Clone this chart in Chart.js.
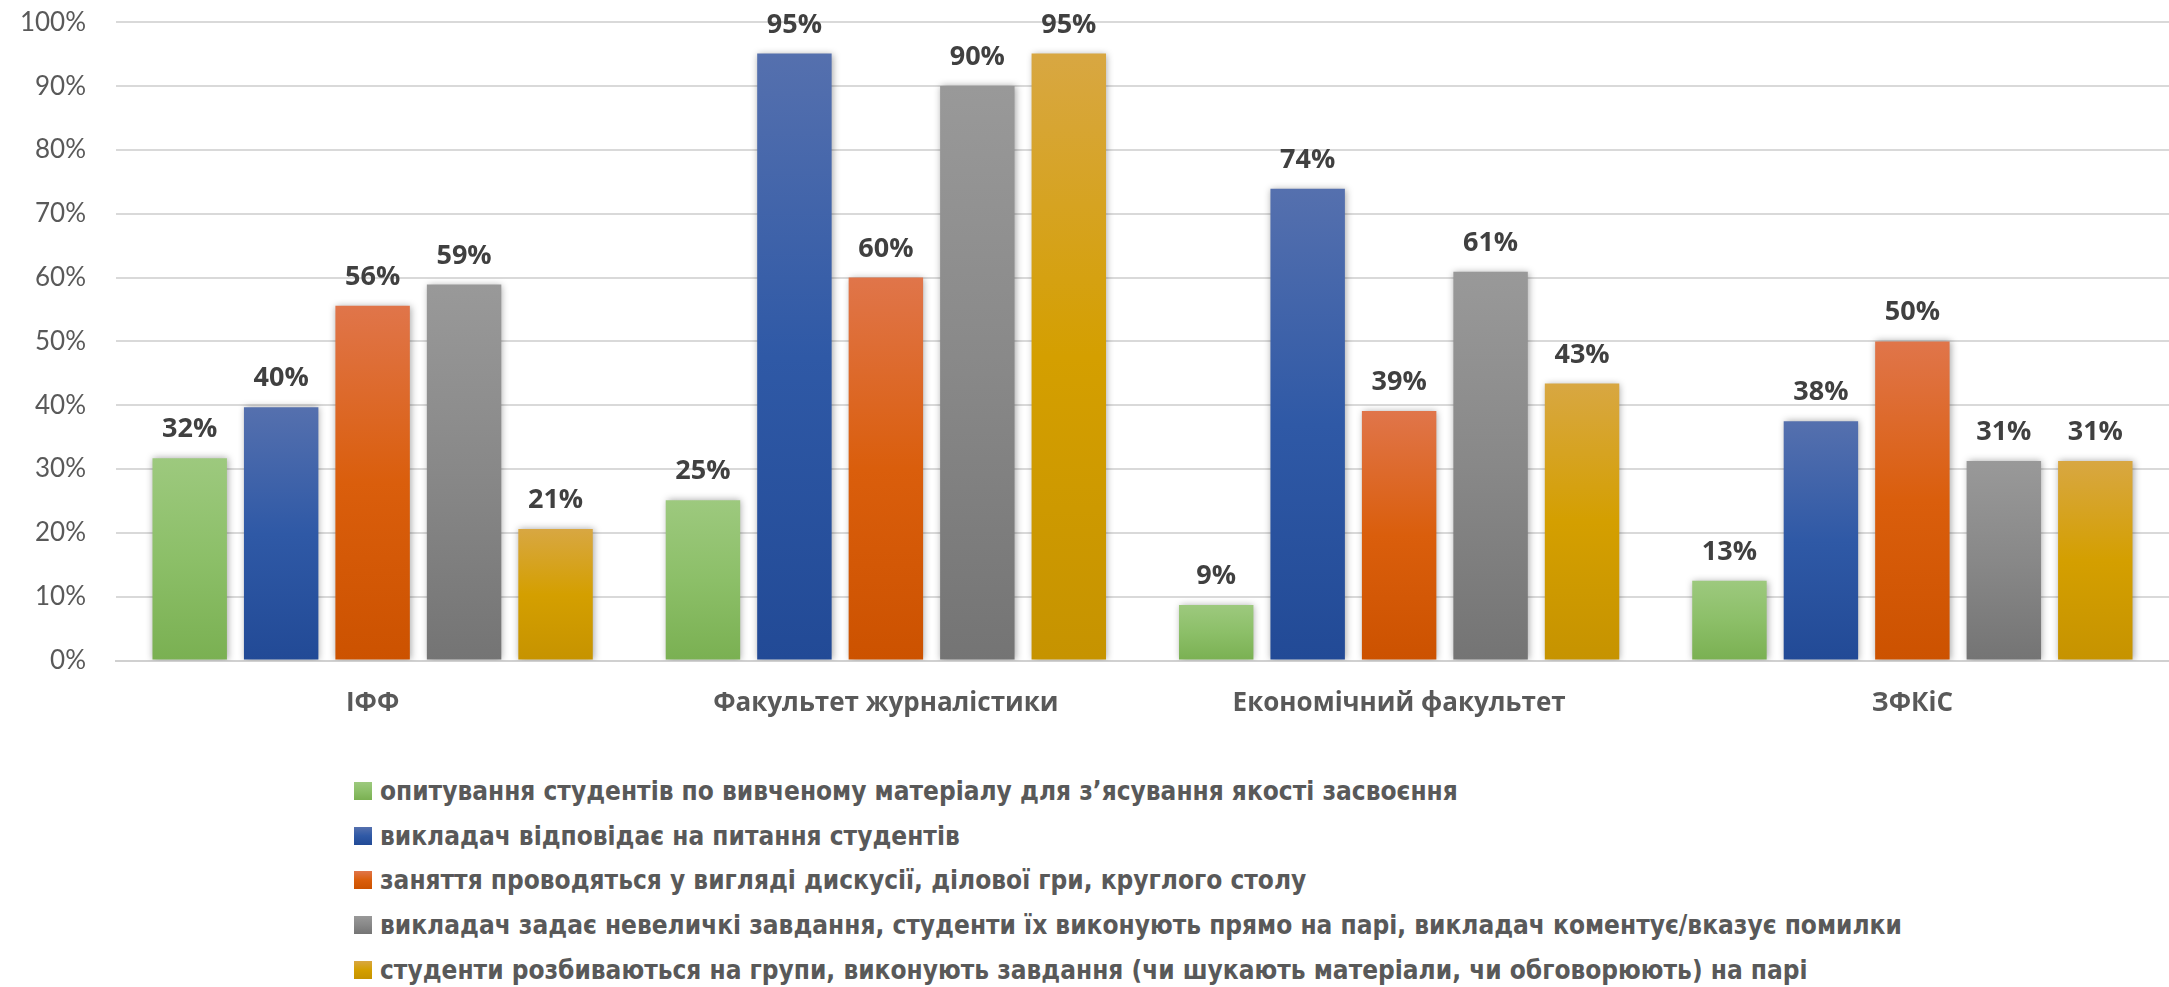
<!DOCTYPE html>
<html>
<head>
<meta charset="utf-8">
<script src="https://cdn.jsdelivr.net/npm/chart.js@4.4.0/dist/chart.umd.min.js"></script>
<style>
    body { margin: 0; background: #fff; }
    #wrap { position: relative; width: 2169px; height: 987px; }
    #legend { position: absolute; left: 354px; top: 769px; margin: 0; padding: 0; list-style: none; }
    #legend li { height: 44.6px; display: flex; align-items: center; white-space: nowrap;
        font: bold 26px "DejaVu Sans Condensed", sans-serif; color: #595959; }
    #legend .box { width: 18px; height: 18px; margin-right: 8px; flex: none; }
</style>
</head>
<body>
<div id="wrap">
    <canvas id="chart" width="2169" height="740"></canvas>
    <ul id="legend"></ul>
</div>
<script>
// categories (faculties)
const categories = ['ІФФ', 'Факультет журналістики', 'Економічний факультет', 'ЗФКіС'];

// series names
const seriesNames = [
    'опитування студентів по вивченому матеріалу для з’ясування якості засвоєння',
    'викладач відповідає на питання студентів',
    'заняття проводяться у вигляді дискусії, ділової гри, круглого столу',
    'викладач задає невеличкі завдання, студенти їх виконують прямо на парі, викладач коментує/вказує помилки',
    'студенти розбиваються на групи, виконують завдання (чи шукають матеріали, чи обговорюють) на парі'
];

// values (share of answers)
const survey = [0.317, 0.251, 0.087, 0.125];
const answers = [0.397, 0.951, 0.739, 0.375];
const discussion = [0.556, 0.600, 0.391, 0.500];
const smallTasks = [0.589, 0.900, 0.609, 0.3125];
const groupWork = [0.206, 0.951, 0.434, 0.3125];

const yTickLabels = ['0%', '10%', '20%', '30%', '40%', '50%', '60%', '70%', '80%', '90%', '100%'];

// gradient stops per series: top, middle, bottom
const seriesColors = [
    ['#9dc97e', '#8cbf68', '#7ab052'],
    ['#5570ae', '#2f59a6', '#224a96'],
    ['#e0754a', '#da5e0c', '#cc5200'],
    ['#999999', '#888888', '#747474'],
    ['#d8a742', '#d49f00', '#c69300']
];

function barFill(stops) {
    return ctx => {
        const chart = ctx.chart;
        const y = chart.scales.y;
        if (ctx.type !== 'data' || !y) return stops[1];
        const top = y.getPixelForValue(ctx.raw);
        const bottom = y.getPixelForValue(0);
        if (!isFinite(top) || !isFinite(bottom) || top === bottom) return stops[1];
        const g = chart.ctx.createLinearGradient(0, top, 0, bottom);
        g.addColorStop(0, stops[0]);
        g.addColorStop(0.5, stops[1]);
        g.addColorStop(1, stops[2]);
        return g;
    };
}

// soft shadow around bars
const barShadow = {
    id: 'barShadow',
    beforeDatasetDraw(chart) {
        const c = chart.ctx;
        c.save();
        c.shadowColor = 'rgba(0,0,0,0.35)';
        c.shadowBlur = 7;
        c.shadowOffsetX = 1;
    },
    afterDatasetDraw(chart) { chart.ctx.restore(); }
};

// percent labels above bars
const valueLabels = {
    id: 'valueLabels',
    afterDatasetsDraw(chart) {
        const c = chart.ctx;
        c.save();
        c.font = 'bold 27px "Open Sans", sans-serif';
        c.fillStyle = '#404040';
        c.textAlign = 'center';
        c.textBaseline = 'alphabetic';
        chart.data.datasets.forEach((ds, i) => {
            chart.getDatasetMeta(i).data.forEach((bar, j) => {
                c.fillText(Math.round(ds.data[j] * 100) + '%', bar.x, bar.y - 21);
            });
        });
        c.restore();
    }
};

const seriesData = [survey, answers, discussion, smallTasks, groupWork];

const chart = new Chart(document.getElementById('chart'), {
    type: 'bar',
    data: {
        labels: categories,
        datasets: seriesData.map((d, i) => ({
            label: seriesNames[i],
            data: d,
            backgroundColor: barFill(seriesColors[i]),
            borderWidth: 0,
            categoryPercentage: 0.891,
            barPercentage: 0.814
        }))
    },
    options: {
        responsive: false,
        animation: false,
        devicePixelRatio: 1,
        layout: { padding: { top: 22.3, right: 0, bottom: 21.3, left: 0 } },
        plugins: {
            legend: { display: false },
            tooltip: { enabled: false }
        },
        scales: {
            x: {
                afterFit: s => { s.height = 58.2; },
                grid: { display: false, drawTicks: false },
                border: { display: true, color: '#d0d0d0', width: 2 },
                ticks: {
                    color: '#595959',
                    padding: 27,
                    font: { family: '"Open Sans", sans-serif', size: 26, weight: 'bold' }
                }
            },
            y: {
                min: 0,
                max: 1,
                afterFit: s => { s.width = 116; s.paddingTop = 0; s.paddingBottom = 0; },
                border: { display: false },
                grid: { color: '#d9d9d9', lineWidth: 2, drawTicks: false },
                ticks: {
                    stepSize: 0.1,
                    padding: 30,
                    color: '#595959',
                    font: { family: 'Lato, "Open Sans", sans-serif', size: 26 },
                    callback: (v, i) => yTickLabels[i]
                }
            }
        }
    },
    plugins: [barShadow, valueLabels]
});

// legend, one series per row
const legendEl = document.getElementById('legend');
chart.data.datasets.forEach((ds, i) => {
    const li = document.createElement('li');
    const c = seriesColors[i];
    li.innerHTML = `<span class="box" style="background:linear-gradient(${c[0]},${c[1]},${c[2]})"></span>${ds.label}`;
    legendEl.appendChild(li);
});
</script>
</body>
</html>
